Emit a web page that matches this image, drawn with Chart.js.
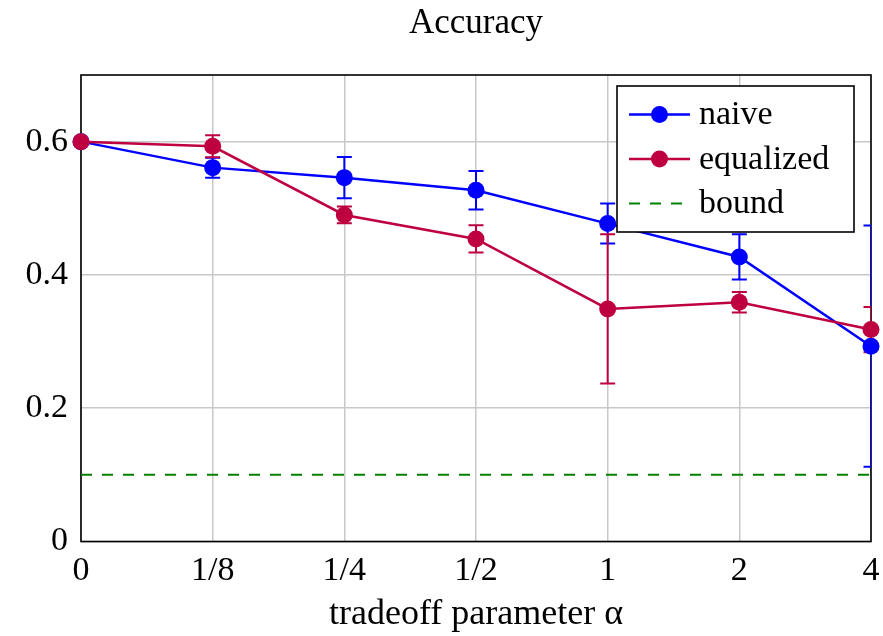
<!DOCTYPE html>
<html><head><meta charset="utf-8">
<script src="https://cdn.jsdelivr.net/npm/chart.js@4"></script>
<style>html,body{margin:0;padding:0;background:#fff}</style>
</head><body>
<canvas id="c" width="883" height="636"></canvas>
<script>
const categories = ['0','1/8','1/4','1/2','1','2','4'];
const naiveValues = [0.600, 0.561, 0.546, 0.527, 0.477, 0.427, 0.293];
const naiveErrors = [0, 0.015, 0.031, 0.029, 0.030, 0.034, 0.181];
const equalizedValues = [0.600, 0.593, 0.490, 0.454, 0.349, 0.359, 0.318];
const equalizedErrors = [0, 0.0165, 0.0125, 0.0205, 0.112, 0.0155, 0.034];
const boundValues = [0.1, 0.1, 0.1, 0.1, 0.1, 0.1, 0.1];
const yTicks = [0, 0.2, 0.4, 0.6];
const yTickLabels = ['0', '0.2', '0.4', '0.6'];

const FONT = "'Liberation Serif', 'Times New Roman', serif";
const BLUE = '#0000ff', RED = '#bf0040', GREEN = '#008000';

const framePlugin = {
  id: 'frameAndErrors',
  beforeDatasetsDraw(chart) {
    const {ctx, chartArea: a, scales: {x, y}} = chart;
    ctx.save();
    ctx.strokeStyle = '#000'; ctx.lineWidth = 1.6;
    ctx.strokeRect(a.left, a.top, a.right - a.left, a.bottom - a.top);
    ctx.beginPath(); ctx.rect(a.left, a.top, a.right - a.left, a.bottom - a.top); ctx.clip();
    [0, 1].forEach(di => {
      const ds = chart.data.datasets[di];
      ctx.strokeStyle = ds.borderColor; ctx.lineWidth = 2;
      ds.data.forEach((v, i) => {
        const e = ds.errors[i];
        if (!e) return;
        const px = x.getPixelForValue(i);
        const yt = y.getPixelForValue(v + e), yb = y.getPixelForValue(v - e);
        ctx.beginPath();
        ctx.moveTo(px, yt); ctx.lineTo(px, yb);
        ctx.moveTo(px - 7.5, yt); ctx.lineTo(px + 7.5, yt);
        ctx.moveTo(px - 7.5, yb); ctx.lineTo(px + 7.5, yb);
        ctx.stroke();
      });
    });
    ctx.restore();
  },
  afterDatasetsDraw(chart) {
    const {ctx, chartArea: a} = chart;
    const bx = a.right - 254, by = a.top + 11, bw = 237, bh = 146;
    ctx.save();
    ctx.fillStyle = '#fff'; ctx.fillRect(bx, by, bw, bh);
    ctx.strokeStyle = '#000'; ctx.lineWidth = 1.6; ctx.strokeRect(bx, by, bw, bh);
    ctx.font = '34px ' + FONT; ctx.textBaseline = 'middle'; ctx.textAlign = 'left';
    chart.data.datasets.forEach((ds, i) => {
      const cy = by + 28.5 + i * 44.5;
      ctx.strokeStyle = ds.borderColor; ctx.lineWidth = ds.borderWidth;
      ctx.setLineDash(ds.borderDash || []);
      ctx.beginPath(); ctx.moveTo(bx + 12, cy); ctx.lineTo(bx + 73, cy); ctx.stroke();
      ctx.setLineDash([]);
      if (ds.pointRadius) {
        ctx.fillStyle = ds.borderColor;
        ctx.beginPath(); ctx.arc(bx + 42.5, cy, ds.pointRadius, 0, Math.PI * 2); ctx.fill();
      }
      ctx.fillStyle = '#000';
      ctx.fillText(ds.label, bx + 82, cy + 1);
    });
    ctx.restore();
  }
};

new Chart(document.getElementById('c'), {
  type: 'line',
  data: {
    labels: categories,
    datasets: [
      {label: 'naive', data: naiveValues, errors: naiveErrors, borderColor: BLUE, backgroundColor: BLUE,
       borderWidth: 2.5, pointRadius: 8.5, pointHoverRadius: 8.5, pointBorderWidth: 0, clip: false, order: 1},
      {label: 'equalized', data: equalizedValues, errors: equalizedErrors, borderColor: RED, backgroundColor: RED,
       borderWidth: 2.5, pointRadius: 8.5, pointHoverRadius: 8.5, pointBorderWidth: 0, clip: false, order: 0},
      {label: 'bound', data: boundValues, borderColor: GREEN, backgroundColor: GREEN,
       borderWidth: 2, borderDash: [11, 10], pointRadius: 0, order: 2}
    ]
  },
  options: {
    responsive: false, animation: false,
    layout: {padding: {left: 0, right: 12, top: 0, bottom: 0}},
    plugins: {
      legend: {display: false}, tooltip: {enabled: false},
      title: {display: true, text: 'Accuracy', color: '#000', fullSize: false,
        font: {family: FONT, size: 35, weight: 'normal'}, padding: {top: 3, bottom: 30}}
    },
    scales: {
      x: {
        type: 'category', offset: false,
        grid: {color: '#c8c8c8', lineWidth: 1.5, drawTicks: false},
        border: {display: false},
        ticks: {color: '#000', font: {family: FONT, size: 34}, padding: 9, maxRotation: 0, autoSkip: false},
        title: {display: true, text: 'tradeoff parameter α', color: '#000',
          font: {family: FONT, size: 36}, padding: {top: 0, bottom: 0}},
        afterFit(s) { s.height = 94.5; s.paddingLeft = 0; s.paddingRight = 0; }
      },
      y: {
        min: 0, max: 0.7,
        grid: {color: '#c8c8c8', lineWidth: 1.5, drawTicks: false},
        border: {display: false},
        afterBuildTicks(s) { s.ticks = yTicks.map(v => ({value: v})); },
        ticks: {color: '#000', font: {family: FONT, size: 34}, padding: 13,
          callback: (v, i) => yTickLabels[i]},
        afterFit(s) { s.width = 81; s.paddingTop = 0; s.paddingBottom = 0; }
      }
    }
  },
  plugins: [framePlugin]
});
</script>
</body></html>
